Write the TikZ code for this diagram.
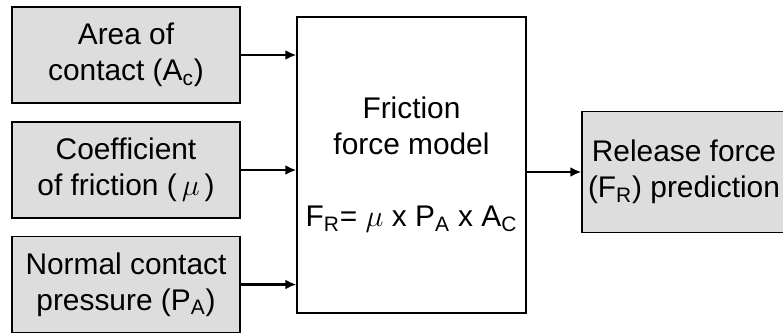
\documentclass[tikz,border=0pt]{standalone}
\usepackage{fontspec}
\setmainfont{Liberation Sans}
\usetikzlibrary{arrows.meta}
\definecolor{boxgray}{RGB}{221,221,221}

\tikzstyle{input}=[draw,fill=boxgray,shape=rectangle,align=center,line width=0.8pt,minimum width=4.56cm,minimum height=1.92cm,inner sep=0pt,font=\fontsize{17}{20.5}\selectfont]
\tikzstyle{model}=[draw,fill=white,shape=rectangle,align=center,line width=0.8pt,minimum width=4.58cm,minimum height=5.92cm,inner sep=0pt,font=\fontsize{17}{20.5}\selectfont]
\tikzstyle{arr}=[line width=1.6pt,-{Latex[length=2.2mm,width=2mm]}]

\begin{document}
\begin{tikzpicture}[x=0.02cm,y=-0.02cm]
\useasboundingbox (0,0) rectangle (783,334);
\clip (0,0) rectangle (783,334);
\node[input] at (126, 55.0) (area)  {Area of\\contact (A\textsubscript{c})};
\node[input] at (126,170.0) (coef)  {Coefficient\\of friction (\,$\mu$\,)};
\node[input] at (126,284.5) (press) {Normal contact\\pressure (P\textsubscript{A})};
\node[model] at (411.5,165) (fric) {Friction\\force model\\[20.5pt]F\textsubscript{R}= $\mu$ x P\textsubscript{A} x A\textsubscript{C}};
\node[input,minimum width=4.08cm,minimum height=2.42cm] at (684,172) (rel) {Release force\\(F\textsubscript{R}) prediction};
\draw[arr] (area)  -- (area -| fric.west);
\draw[arr] (coef)  -- (coef -| fric.west);
\draw[arr] (press) -- (press -| fric.west);
\draw[arr] (rel -| fric.east) -- (rel.west);
\end{tikzpicture}
\end{document}
